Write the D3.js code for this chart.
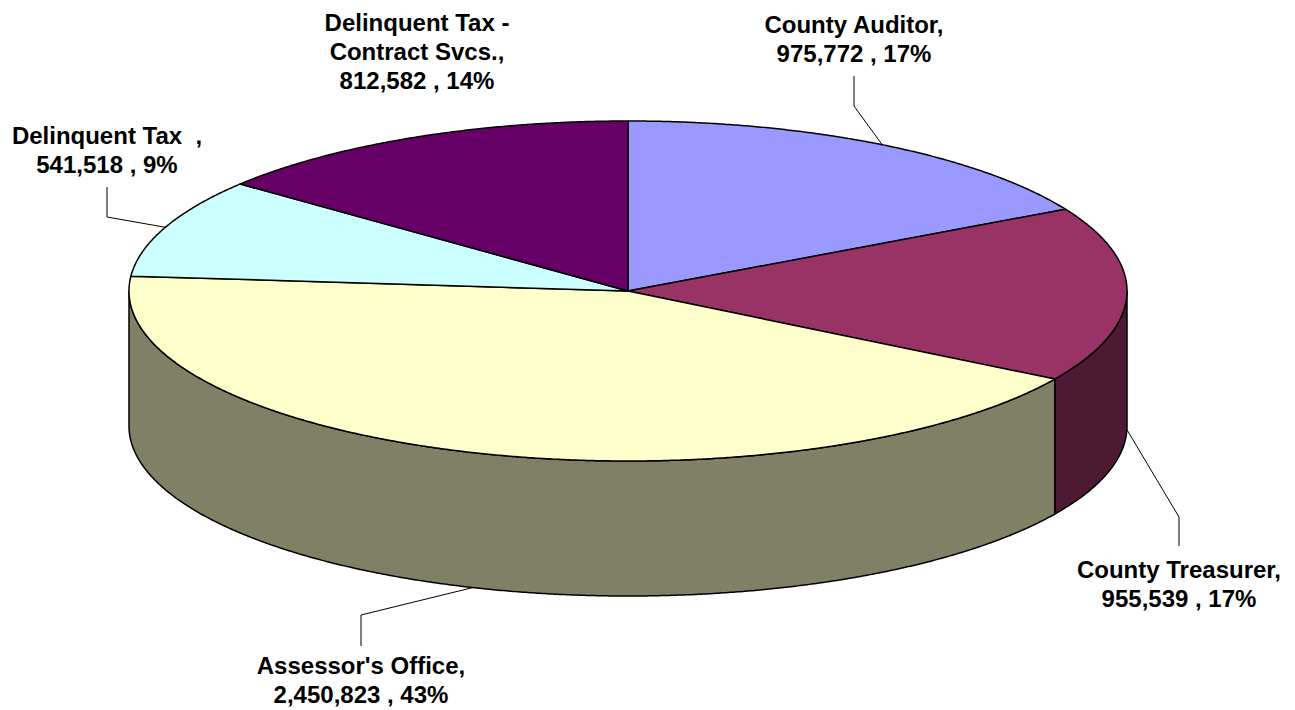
<!DOCTYPE html>
<html><head><meta charset="utf-8">
<script src="https://cdn.jsdelivr.net/npm/d3@7"></script>
<style>
body{margin:0;background:#fff}
svg{display:block}
text{font-family:Arial,"Liberation Sans",sans-serif;font-weight:bold;font-size:24px;white-space:pre;fill:#000}
</style>
</head><body>
<svg id="c" width="1295" height="710"></svg>
<script>
// ---- data ----
const categories = ["County Auditor", "County Treasurer", "Assessor's Office", "Delinquent Tax  ", "Delinquent Tax - Contract Svcs."];
const values = [975772, 955539, 2450823, 541518, 812582];
const labelNameLines = [["County Auditor,"], ["County Treasurer,"], ["Assessor's Office,"], ["Delinquent Tax  ,"], ["Delinquent Tax -", "Contract Svcs.,"]];
const topColors = ["#9999FF", "#993366", "#FFFFCC", "#CCFFFF", "#660066"];
const sideColors = ["#4D4D80", "#4D1A33", "#808066", "#668080", "#330033"];

// ---- layout ----
const cx = 628, cy = 291, rx = 499, ry = 170, depth = 135, lineGap = 29;
const labelLayout = [
  {x: 854, baseline: 33, kinkY: 106, endY: 76},
  {x: 1179, baseline: 578, kinkY: 517, endY: 546},
  {x: 361, baseline: 674, kinkY: 615, endY: 646},
  {x: 107, baseline: 144, kinkY: 217, endY: 187},
  {x: 417, baseline: 31, kinkY: null, endY: null}
];

const svg = d3.select("#c");
const total = d3.sum(values);
const xS = d3.scaleLinear().domain([-1, 1]).range([cx - rx, cx + rx]);
const yS = d3.scaleLinear().domain([-1, 1]).range([cy + ry, cy - ry]);
const pt = (a, dz = 0) => [xS(Math.sin(a)), yS(Math.cos(a)) + dz];
const arcPts = (a0, a1, dz = 0) => {
  const n = Math.max(2, Math.ceil((a1 - a0) / 0.005));
  return d3.range(n + 1).map(i => pt(a0 + (a1 - a0) * i / n, dz));
};
const line = d3.line();
const arcs = d3.pie().sort(null).value(d => d)(values);

// sides (front half only)
const gSide = svg.append("g");
arcs.forEach((a, i) => {
  const s0 = Math.max(a.startAngle, Math.PI / 2), s1 = Math.min(a.endAngle, 3 * Math.PI / 2);
  if (s1 <= s0) return;
  const pts = arcPts(s0, s1).concat(arcPts(s0, s1, depth).reverse());
  gSide.append("path").attr("d", line(pts) + "Z")
    .attr("fill", sideColors[i]).attr("stroke", "#000").attr("stroke-width", 1.5).attr("stroke-linejoin", "round");
});

// top faces
const gTop = svg.append("g");
arcs.forEach((a, i) => {
  const pts = [[cx, cy]].concat(arcPts(a.startAngle, a.endAngle));
  gTop.append("path").attr("d", line(pts) + "Z")
    .attr("fill", topColors[i]).attr("stroke", "#000").attr("stroke-width", 1.5).attr("stroke-linejoin", "round");
});

// leader lines + labels
const fmt = d3.format(",");
const gLab = svg.append("g");
arcs.forEach((a, i) => {
  const L = labelLayout[i];
  const mid = (a.startAngle + a.endAngle) / 2;
  if (L.kinkY !== null) {
    const front = Math.cos(mid) < 0;
    const p0 = pt(mid, front ? depth : 0);
    gLab.append("path").attr("d", line([p0, [L.x, L.kinkY], [L.x, L.endY]]))
      .attr("fill", "none").attr("stroke", "#000").attr("stroke-width", 1);
  }
  const pct = Math.round(values[i] / total * 100);
  const lines = labelNameLines[i].concat([fmt(values[i]) + " , " + pct + "%"]);
  const t = gLab.append("text").attr("text-anchor", "middle");
  lines.forEach((s, k) => {
    t.append("tspan").attr("x", L.x).attr("y", L.baseline + k * lineGap).text(s);
  });
});
</script>
</body></html>
